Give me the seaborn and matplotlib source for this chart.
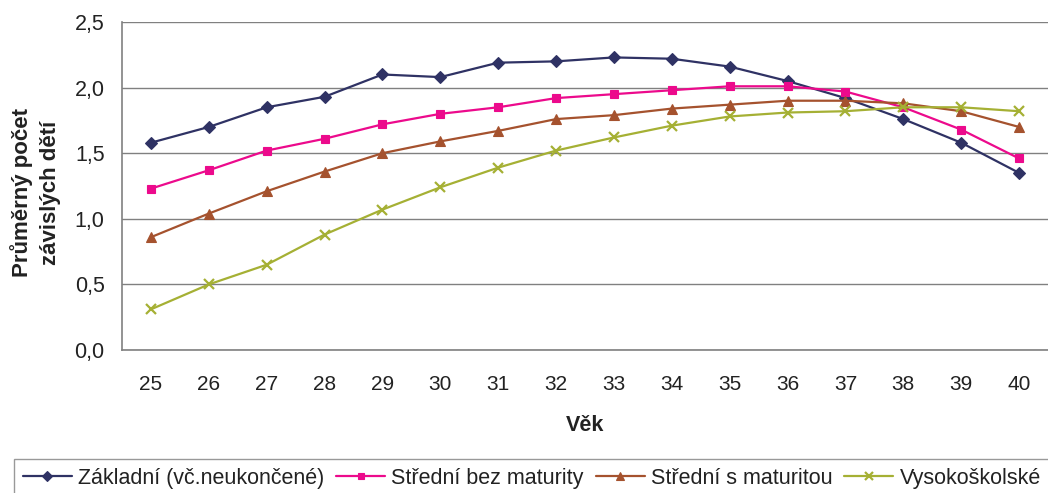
import numpy as np
import pandas as pd
import matplotlib
matplotlib.use('Agg')
import matplotlib.pyplot as plt
import seaborn as sns

# Data
ages = [25, 26, 27, 28, 29, 30, 31, 32, 33, 34, 35, 36, 37, 38, 39, 40]
zakladni = [1.58, 1.70, 1.85, 1.93, 2.10, 2.08, 2.19, 2.20, 2.23, 2.22, 2.16, 2.05, 1.92, 1.76, 1.58, 1.35]
stredni_bez = [1.23, 1.37, 1.52, 1.61, 1.72, 1.80, 1.85, 1.92, 1.95, 1.98, 2.01, 2.01, 1.97, 1.85, 1.68, 1.46]
stredni_s = [0.86, 1.04, 1.21, 1.36, 1.50, 1.59, 1.67, 1.76, 1.79, 1.84, 1.87, 1.90, 1.90, 1.88, 1.82, 1.70]
vysokoskolske = [0.31, 0.50, 0.65, 0.88, 1.07, 1.24, 1.39, 1.52, 1.62, 1.71, 1.78, 1.81, 1.82, 1.85, 1.85, 1.82]

series_names = ['Základní (vč.neukončené)', 'Střední bez maturity',
                'Střední s maturitou', 'Vysokoškolské']
series_values = [zakladni, stredni_bez, stredni_s, vysokoskolske]
y_ticks = [0.0, 0.5, 1.0, 1.5, 2.0, 2.5]
y_tick_labels = ['0,0', '0,5', '1,0', '1,5', '2,0', '2,5']

colors = ['#2F3264', '#EC0A8C', '#A5522E', '#A5B034']
markers = ['D', 's', '^', 'x']
marker_sizes = [6, 5.5, 7, 7]

df = pd.DataFrame({
    'Věk': np.tile(ages, len(series_names)),
    'value': np.concatenate(series_values),
    'series': np.repeat(series_names, len(ages)),
})

sns.set_style('white')
plt.rcParams['font.family'] = ['Liberation Sans', 'DejaVu Sans']

fig = plt.figure(figsize=(10.48, 4.93), dpi=100)
ax = fig.add_axes([122 / 1048, 1 - 350 / 493, 1 - 122 / 1048, (350 - 22) / 493])

for name, c, m, ms in zip(series_names, colors, markers, marker_sizes):
    sub = df[df['series'] == name]
    sns.lineplot(data=sub, x='Věk', y='value', color=c, marker=m, markersize=ms,
                 markeredgecolor=c, markerfacecolor=c,
                 markeredgewidth=1.6 if m == 'x' else 0.8,
                 linewidth=1.6, label=name, ax=ax)

handles, labels = ax.get_legend_handles_labels()
ax.get_legend().remove()

# axes styling (Excel-like)
ax.set_xlim(ages[0] - 0.5, ages[-1] + 0.5)
ax.set_ylim(0, 2.5)
ax.set_yticks(y_ticks)
ax.set_yticklabels(y_tick_labels)
ax.set_xticks(np.arange(ages[0] - 0.5, ages[-1] + 1.0, 1.0))
ax.set_xticklabels([])
ax.set_xticks(ages, minor=True)
ax.set_xticklabels([str(a) for a in ages], minor=True)
ax.tick_params(axis='x', which='major', length=5, width=1, color='#808080', direction='out')
ax.tick_params(axis='x', which='minor', length=0, pad=18, labelsize=15, labelcolor='#222222')
ax.tick_params(axis='y', length=5, width=1, color='#808080', direction='out',
               labelsize=15.5, labelcolor='#222222', pad=7.5)
ax.grid(axis='y', color='#808080', linewidth=1)
ax.set_axisbelow(True)
for side in ['top', 'right']:
    ax.spines[side].set_visible(False)
for side in ['left', 'bottom']:
    ax.spines[side].set_color('#808080')
    ax.spines[side].set_linewidth(1.2)

ax.set_xlabel('Věk', fontsize=15.5, fontweight='bold', color='#222222')
ax.xaxis.set_label_coords(0.5, -0.197)
ax.set_ylabel('Průměrný počet\nzávislých dětí', fontsize=16, fontweight='bold',
              color='#222222', linespacing=1.45)
ax.yaxis.set_label_coords(-0.066, 0.48)

fig.legend(handles, labels, loc='upper left', bbox_to_anchor=(14 / 1048, 1 - 459 / 493),
           ncol=4, frameon=True, fancybox=False, edgecolor='#808080',
           fontsize=15.5, handlelength=2.28, handletextpad=0.28, columnspacing=0.56,
           borderaxespad=0, borderpad=0.4, labelcolor='#222222', markerscale=0.8)

fig.savefig('out.png', dpi=100)
